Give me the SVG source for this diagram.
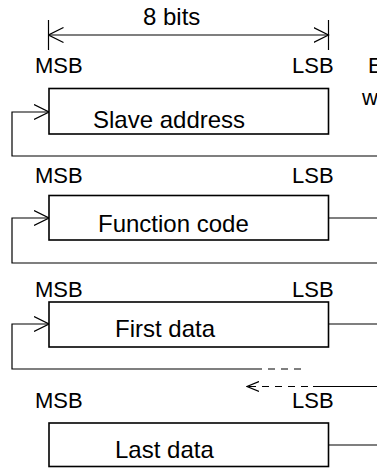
<svg xmlns="http://www.w3.org/2000/svg" width="377" height="468" viewBox="0 0 377 468">
<style>
text{font-family:"Liberation Sans",Arial,sans-serif;fill:#000}
.lbl{font-size:22px}
.big{font-size:24px}
.box{fill:#fff;stroke:#000;stroke-width:1.6}
.ln{fill:none;stroke:#000;stroke-width:1.2}
.dash{fill:none;stroke:#000;stroke-width:1.2;stroke-dasharray:7 6}
</style>
<defs>
<marker id="oa" viewBox="0 0 16 16" refX="15" refY="8" markerWidth="16" markerHeight="16" markerUnits="userSpaceOnUse" orient="auto">
<path d="M0,0.5 L15,8 L0,15.5" fill="none" stroke="#000" stroke-width="1.2"/>
</marker>
<marker id="oas" viewBox="0 0 13 12" refX="12" refY="6" markerWidth="13" markerHeight="12" markerUnits="userSpaceOnUse" orient="auto">
<path d="M0,1 L12,6 L0,11" fill="none" stroke="#000" stroke-width="1.2"/>
</marker>
</defs>
<g id="dimension">
<line class="ln" x1="48.5" y1="20" x2="48.5" y2="50"/>
<line class="ln" x1="328.5" y1="20" x2="328.5" y2="50"/>
<line class="ln" x1="188" y1="35" x2="48.5" y2="35" marker-end="url(#oa)"/>
<line class="ln" x1="188" y1="35" x2="328.5" y2="35" marker-end="url(#oa)"/>
<text class="big" x="143" y="25">8 bits</text>
</g>
<g id="labels">
<text class="lbl" x="35" y="73">MSB</text>
<text class="lbl" x="292" y="73">LSB</text>
<text class="lbl" x="35" y="183">MSB</text>
<text class="lbl" x="292" y="183">LSB</text>
<text class="lbl" x="35" y="297">MSB</text>
<text class="lbl" x="292" y="297">LSB</text>
<text class="lbl" x="35" y="408">MSB</text>
<text class="lbl" x="292" y="408">LSB</text>
<text class="lbl" x="368" y="73">E</text>
<text class="lbl" x="362" y="105">w</text>
</g>
<g id="connectors">
<polyline class="ln" points="377,156 12,156 12,112 49,112" marker-end="url(#oa)"/>
<line class="ln" x1="329" y1="218" x2="377" y2="218"/>
<polyline class="ln" points="377,263 12,263 12,218 49,218" marker-end="url(#oa)"/>
<line class="ln" x1="329" y1="324" x2="377" y2="324"/>
<polyline class="ln" points="262,369 12,369 12,324 49,324" marker-end="url(#oa)"/>
<line class="dash" x1="268" y1="369" x2="306" y2="369"/>
<line class="ln" x1="377" y1="386.5" x2="313" y2="386.5"/>
<line class="dash" x1="308" y1="386.5" x2="247" y2="386.5" marker-end="url(#oas)"/>
<line class="ln" x1="329" y1="445" x2="377" y2="445"/>
</g>
<g id="slave-address">
<rect class="box" x="49" y="88.5" width="279.5" height="45.5"/>
<text class="big" x="93" y="128">Slave address</text>
</g>
<g id="function-code">
<rect class="box" x="49" y="195.5" width="279.5" height="44.5"/>
<text class="big" x="98" y="232">Function code</text>
</g>
<g id="first-data">
<rect class="box" x="49" y="302" width="279.5" height="45"/>
<text class="big" x="115" y="337">First data</text>
</g>
<g id="last-data">
<rect class="box" x="49" y="423" width="279.5" height="43.5"/>
<text class="big" x="115" y="458">Last data</text>
</g>
</svg>
